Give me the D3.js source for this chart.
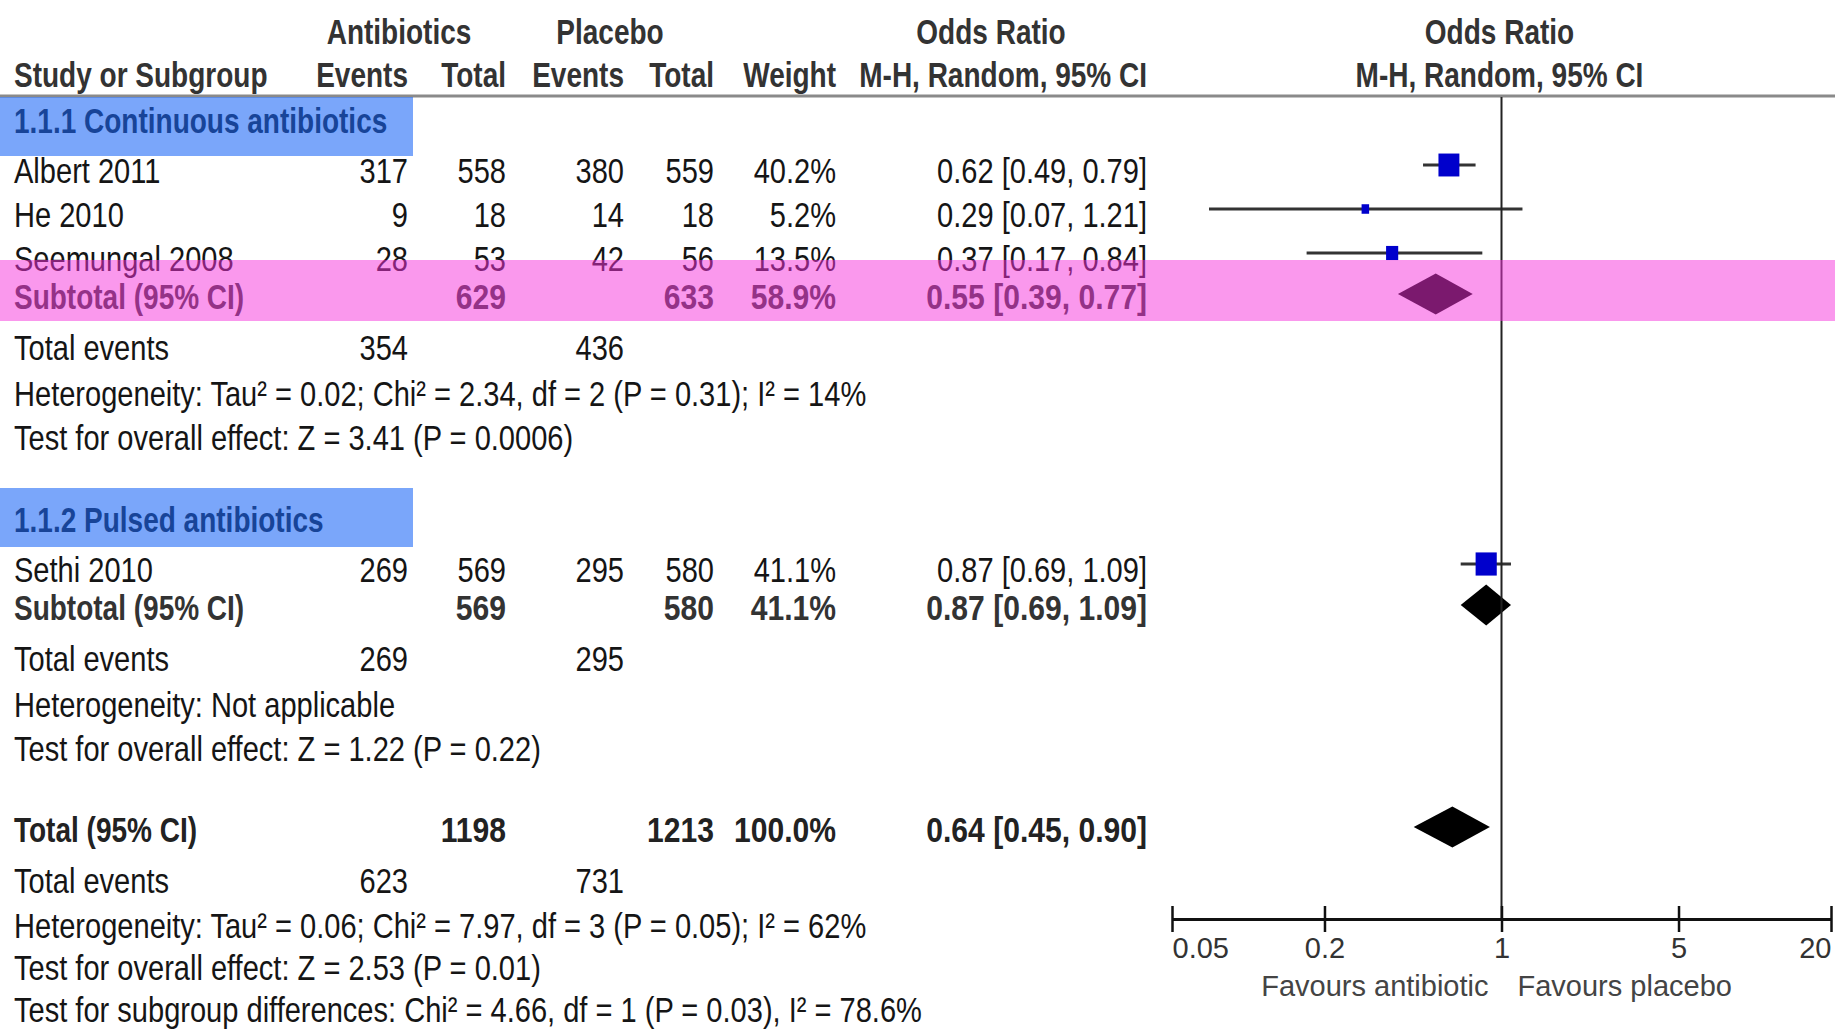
<!DOCTYPE html>
<html>
<head>
<meta charset="utf-8">
<script src="https://cdn.jsdelivr.net/npm/d3@7"></script>
<style>
  html, body { margin: 0; padding: 0; background: #fff; }
  svg { display: block; font-family: "Liberation Sans", Arial, sans-serif; }
</style>
</head>
<body>
<svg id="chart" width="1835" height="1031"></svg>
<script>
// ---- Study-level data (odds ratio, M-H random effects) ----
const studyNames = ["Albert 2011", "He 2010", "Seemungal 2008", "Sethi 2010"];
const studyGroup = [0, 0, 0, 1];
const abEvents  = [317, 9, 28, 269];
const abTotal   = [558, 18, 53, 569];
const plEvents  = [380, 14, 42, 295];
const plTotal   = [559, 18, 56, 580];
const weights   = [40.2, 5.2, 13.5, 41.1];
const orEst     = [0.62, 0.29, 0.37, 0.87];
const orLow     = [0.49, 0.07, 0.17, 0.69];
const orHigh    = [0.79, 1.21, 0.84, 1.09];

// ---- Subgroup summaries ----
const groupNames     = ["1.1.1 Continuous antibiotics", "1.1.2 Pulsed antibiotics"];
const groupAbTotal   = [629, 569];
const groupPlTotal   = [633, 580];
const groupWeight    = [58.9, 41.1];
const groupOr        = [0.55, 0.87];
const groupLow       = [0.39, 0.69];
const groupHigh      = [0.77, 1.09];
const groupAbEvents  = [354, 269];
const groupPlEvents  = [436, 295];
const groupHetText   = ["Heterogeneity: Tau² = 0.02; Chi² = 2.34, df = 2 (P = 0.31); I² = 14%",
                        "Heterogeneity: Not applicable"];
const groupTestText  = ["Test for overall effect: Z = 3.41 (P = 0.0006)",
                        "Test for overall effect: Z = 1.22 (P = 0.22)"];

// ---- Overall summary ----
const totalAbTotal  = 1198;
const totalPlTotal  = 1213;
const totalWeight   = 100.0;
const totalOr       = 0.64;
const totalLow      = 0.45;
const totalHigh     = 0.90;
const totalAbEvents = 623;
const totalPlEvents = 731;
const totalNotes = [
  "Heterogeneity: Tau² = 0.06; Chi² = 7.97, df = 3 (P = 0.05); I² = 62%",
  "Test for overall effect: Z = 2.53 (P = 0.01)",
  "Test for subgroup differences: Chi² = 4.66, df = 1 (P = 0.03), I² = 78.6%"
];

// ---- Axis ----
const axisTicks  = [0.05, 0.2, 1, 5, 20];
const axisLabels = ["0.05", "0.2", "1", "5", "20"];
const favourLeft  = "Favours antibiotic";
const favourRight = "Favours placebo";

// ---------------------------------------------------------------
const svg = d3.select("#chart");
svg.append("rect").attr("width", 1835).attr("height", 1031).attr("fill", "#fff");

const x = d3.scaleLog().domain([axisTicks[0], axisTicks[axisTicks.length - 1]]).range([1172, 1831]);
const boxSide = d3.scaleSqrt().domain([0, 100]).range([0, 33]);

const col = { abE: 408, abT: 506, plE: 624, plT: 714, wt: 836, or: 1147, name: 14 };
const fmt2 = d3.format(".2f");
const fmtW = v => d3.format(".1f")(v) + "%";
const orText = (e, l, h) => `${fmt2(e)} [${fmt2(l)}, ${fmt2(h)}]`;

const textLayer = svg.append("g");
const markLayer = svg.append("g");
const overlayLayer = svg.append("g");

function txt(s, xPos, yPos, opt = {}) {
  const bold = !!opt.bold;
  const sx = opt.sx || (bold ? 0.8 : 0.83);
  textLayer.append("text")
    .attr("transform", `translate(${xPos},${yPos}) scale(${sx},1)`)
    .attr("text-anchor", opt.anchor || "start")
    .attr("dy", "0.36em")
    .style("font-size", (opt.size || 35) + "px")
    .style("font-weight", bold ? 700 : 400)
    .attr("fill", opt.fill || "#151515")
    .text(s);
}
// bold figures are set a little wider than bold words
const boldNum = (s, xPos, yPos, fill) => txt(s, xPos, yPos, { bold: true, anchor: "end", fill, sx: 0.86 });

// ---- Header ----
const headFill = "#333";
const lineY = 96;
txt("Antibiotics", (col.abE + col.abT) / 2 - 58, 31, { bold: true, anchor: "middle", fill: headFill });
txt("Placebo", (col.plE + col.plT) / 2 - 59, 31, { bold: true, anchor: "middle", fill: headFill });
txt("Odds Ratio", 991, 31, { bold: true, anchor: "middle", fill: headFill });
txt("Odds Ratio", x(1) - 2, 31, { bold: true, anchor: "middle", fill: headFill });
txt("Study or Subgroup", col.name, 74, { bold: true, fill: headFill });
txt("Events", col.abE, 74, { bold: true, anchor: "end", fill: headFill });
txt("Total", col.abT, 74, { bold: true, anchor: "end", fill: headFill });
txt("Events", col.plE, 74, { bold: true, anchor: "end", fill: headFill });
txt("Total", col.plT, 74, { bold: true, anchor: "end", fill: headFill });
txt("Weight", col.wt, 74, { bold: true, anchor: "end", fill: headFill });
txt("M-H, Random, 95% CI", col.or, 74, { bold: true, anchor: "end", fill: headFill });
txt("M-H, Random, 95% CI", x(1) - 2, 74, { bold: true, anchor: "middle", fill: headFill });

svg.insert("line", "g").attr("x1", 0).attr("x2", 1835).attr("y1", lineY).attr("y2", lineY)
  .attr("stroke", "#8a8a8a").attr("stroke-width", 3);

// ---- Marks ----
function studyMark(i, y) {
  const ym = y - 5;
  markLayer.append("line")
    .attr("x1", x(orLow[i])).attr("x2", x(orHigh[i]))
    .attr("y1", ym).attr("y2", ym)
    .attr("stroke", "#333").attr("stroke-width", 3);
  const s = boxSide(weights[i]);
  markLayer.append("rect")
    .attr("x", x(orEst[i]) - s / 2).attr("y", ym - s / 2 - 1)
    .attr("width", s).attr("height", s + 2)
    .attr("fill", "#0000cc");
}
function diamond(est, lo, hi, y) {
  const ym = y - 2, h = 20.5;
  markLayer.append("polygon")
    .attr("points", [[x(lo), ym], [x(est), ym - h], [x(hi), ym], [x(est), ym + h]].map(p => p.join(",")).join(" "))
    .attr("fill", "#000");
}

// ---- Rows ----
let y = 120;
let lastTestY = 0;
groupNames.forEach((gName, g) => {
  if (g > 0) y = lastTestY + 82;
  const labelY = y;
  txt(gName, col.name, labelY, { bold: true, fill: "#333" });
  const boxTop = Math.max(labelY - 31, lineY + 1);
  overlayLayer.append("rect").attr("x", 0).attr("y", boxTop).attr("width", 413).attr("height", 59)
    .attr("fill", "rgba(0,85,245,0.52)");

  y += 50;
  const idx = studyNames.map((_, i) => i).filter(i => studyGroup[i] === g);
  idx.forEach((i, k) => {
    if (k > 0) y += 44;
    txt(studyNames[i], col.name, y);
    txt(abEvents[i], col.abE, y, { anchor: "end" });
    txt(abTotal[i], col.abT, y, { anchor: "end" });
    txt(plEvents[i], col.plE, y, { anchor: "end" });
    txt(plTotal[i], col.plT, y, { anchor: "end" });
    txt(fmtW(weights[i]), col.wt, y, { anchor: "end" });
    txt(orText(orEst[i], orLow[i], orHigh[i]), col.or, y, { anchor: "end" });
    studyMark(i, y);
  });

  y += 38;
  const subFill = "#333";
  txt("Subtotal (95% CI)", col.name, y, { bold: true, fill: subFill });
  boldNum(groupAbTotal[g], col.abT, y, subFill);
  boldNum(groupPlTotal[g], col.plT, y, subFill);
  boldNum(fmtW(groupWeight[g]), col.wt, y, subFill);
  boldNum(orText(groupOr[g], groupLow[g], groupHigh[g]), col.or, y, subFill);
  diamond(groupOr[g], groupLow[g], groupHigh[g], y);
  if (g === 0) {
    overlayLayer.append("rect").attr("x", 0).attr("y", y - 36).attr("width", 1835).attr("height", 61)
      .attr("fill", "rgba(245,50,220,0.5)");
  }

  y += 51;
  txt("Total events", col.name, y);
  txt(groupAbEvents[g], col.abE, y, { anchor: "end" });
  txt(groupPlEvents[g], col.plE, y, { anchor: "end" });
  y += 46;
  txt(groupHetText[g], col.name, y);
  y += 44;
  txt(groupTestText[g], col.name, y);
  lastTestY = y;
});

y = lastTestY + 81;
txt("Total (95% CI)", col.name, y, { bold: true, fill: "#222" });
boldNum(totalAbTotal, col.abT, y, "#222");
boldNum(totalPlTotal, col.plT, y, "#222");
boldNum(fmtW(totalWeight), col.wt, y, "#222");
boldNum(orText(totalOr, totalLow, totalHigh), col.or, y, "#222");
diamond(totalOr, totalLow, totalHigh, y);
y += 51;
txt("Total events", col.name, y);
txt(totalAbEvents, col.abE, y, { anchor: "end" });
txt(totalPlEvents, col.plE, y, { anchor: "end" });
totalNotes.forEach((n, k) => {
  y += k === 0 ? 45 : 42;
  txt(n, col.name, y);
});

// ---- Null line and axis ----
const axisY = 919;
markLayer.append("line")
  .attr("x1", x(1)).attr("x2", x(1)).attr("y1", lineY + 1).attr("y2", axisY)
  .attr("stroke", "#222").attr("stroke-width", 2);

const axis = d3.axisBottom(x)
  .tickValues(axisTicks)
  .tickFormat((d, i) => axisLabels[i])
  .tickSizeInner(13).tickSizeOuter(0);
const ag = markLayer.append("g").attr("transform", `translate(0,${axisY})`).call(axis);
ag.select(".domain").attr("stroke", "#111").attr("stroke-width", 3);
ag.selectAll(".tick line").attr("y1", -13).attr("y2", 13).attr("stroke", "#111").attr("stroke-width", 2.5);
ag.selectAll(".tick text")
  .attr("y", 29).attr("dy", "0.36em")
  .style("font-size", "29px").style("font-family", "'Liberation Sans', Arial, sans-serif")
  .attr("fill", "#333")
  .attr("text-anchor", (d, i) => i === 0 ? "start" : (i === axisTicks.length - 1 ? "end" : "middle"));

markLayer.append("text").attr("x", x(1) - 13).attr("y", 986).attr("dy", "0.36em")
  .attr("text-anchor", "end").style("font-size", "29px").attr("fill", "#444").text(favourLeft);
markLayer.append("text").attr("x", x(1) + 16).attr("y", 986).attr("dy", "0.36em")
  .attr("text-anchor", "start").style("font-size", "29px").attr("fill", "#444").text(favourRight);
</script>
</body>
</html>
